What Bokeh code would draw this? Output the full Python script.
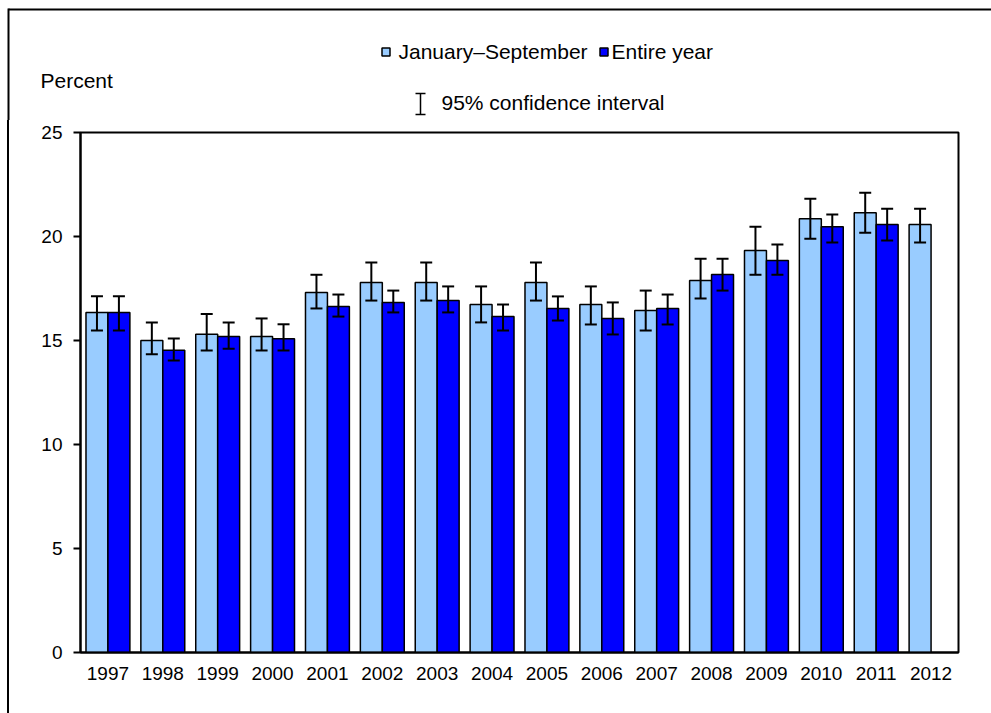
from bokeh.plotting import figure
from bokeh.layouts import column, row
from bokeh.models import ColumnDataSource, FactorRange, Range1d, FixedTicker, Whisker, TeeHead
from bokeh.core.properties import value
from bokeh.transform import dodge
from bokeh.embed import file_html
from bokeh.resources import INLINE

years = ["1997", "1998", "1999", "2000", "2001", "2002", "2003", "2004",
         "2005", "2006", "2007", "2008", "2009", "2010", "2011", "2012"]
jan_sep = [16.35, 15.0, 15.3, 15.19, 17.31, 17.79, 17.79, 16.73, 17.79, 16.73, 16.44, 17.88, 19.33, 20.85, 21.14, 20.58]
jan_sep_lo = [15.48, 14.34, 14.52, 14.52, 16.54, 16.92, 16.92, 15.87, 16.92, 15.77, 15.48, 17.02, 18.16, 19.89, 20.18, 19.71]
jan_sep_hi = [17.13, 15.87, 16.27, 16.06, 18.16, 18.75, 18.75, 17.6, 18.75, 17.6, 17.4, 18.93, 20.47, 21.81, 22.1, 21.33]
entire_years = years[:15]
entire = [16.35, 14.53, 15.19, 15.08, 16.63, 16.83, 16.92, 16.15, 16.54, 16.06, 16.54, 18.17, 18.85, 20.47, 20.58]
entire_lo = [15.48, 14.04, 14.6, 14.52, 16.15, 16.35, 16.35, 15.48, 15.96, 15.29, 15.77, 17.4, 18.16, 19.71, 19.81]
entire_hi = [17.13, 15.1, 15.87, 15.78, 17.21, 17.4, 17.6, 16.73, 17.12, 16.83, 17.21, 18.93, 19.62, 21.06, 21.33]
y_ticks = [0, 5, 10, 15, 20, 25]
series_names = ["January\u2013September", "Entire year"]
ci_label = "95% confidence interval"
y_title = "Percent"

LIGHT = "#99CCFF"
DARK = "#0000FF"
FONT = "Liberation Sans"

W, H = 991, 713
TOP_H = 120    # header (legend, y title)
LEFT_OFF = 7   # outer border sits 7px in from the left edge

# ---- header: outer border, y title, legend ----
top = figure(width=W, height=TOP_H, x_range=Range1d(0, W), y_range=Range1d(TOP_H, 0),
             min_border=0, x_axis_location=None, y_axis_location=None,
             output_backend="svg", toolbar_location=None)
top.grid.visible = False
top.outline_line_color = None
top.background_fill_color = "white"
top.border_fill_color = "white"
top.segment(x0=[8, 8], y0=[9, 8], x1=[W, 8], y1=[9, TOP_H], line_color="black", line_width=2)
top.text(x=[40], y=[80], text=[y_title], text_font=value(FONT), text_font_size="21px",
         text_color="black", text_baseline="middle", text_align="left")
top.rect(x=[385.5, 603.5], y=[51.5, 51.5], width=8, height=8, fill_color=[LIGHT, DARK],
         line_color="black", line_width=1.5)
top.text(x=[398, 611], y=[51, 51], text=series_names, text_font=value(FONT), text_font_size="21px",
         text_color="black", text_baseline="middle", text_align="left")
# confidence interval key (I-beam)
top.segment(x0=[420, 415, 415], y0=[93, 93, 114], x1=[420, 425, 425], y1=[114, 93, 114],
            line_color="black", line_width=1.5)
top.text(x=[441], y=[102], text=[ci_label], text_font=value(FONT), text_font_size="21px",
         text_color="black", text_baseline="middle", text_align="left")

# ---- main chart ----
src_a = ColumnDataSource(dict(year=years, v=jan_sep, lo=jan_sep_lo, hi=jan_sep_hi))
src_b = ColumnDataSource(dict(year=entire_years, v=entire, lo=entire_lo, hi=entire_hi))

PW = W - LEFT_OFF - 2
p = figure(x_range=FactorRange(factors=years, range_padding=0), y_range=Range1d(0, 25),
           width=PW, height=H - TOP_H, output_backend="svg", toolbar_location=None,
           min_border_left=80 - (LEFT_OFF + 2), min_border_right=(LEFT_OFF + 2 + PW) - 958,
           min_border_top=132 - TOP_H, min_border_bottom=(H - 652))
p.margin = (0, 0, 0, LEFT_OFF)
p.styles = {"border-left": "2px solid black"}
p.background_fill_color = "white"
p.border_fill_color = "white"
p.outline_line_color = "black"
p.outline_line_width = 2
p.grid.visible = False

p.vbar(x=dodge("year", -0.2, range=p.x_range), top="v", width=0.4, source=src_a,
       fill_color=LIGHT, line_color="black", line_width=1.5)
p.vbar(x=dodge("year", 0.2, range=p.x_range), top="v", width=0.4, source=src_b,
       fill_color=DARK, line_color="black", line_width=1.5)

for src, off in ((src_a, -0.2), (src_b, 0.2)):
    w = Whisker(base=dodge("year", off, range=p.x_range), upper="hi", lower="lo", source=src,
                line_color="black", line_width=2, level="overlay",
                upper_head=TeeHead(size=12, line_width=2, line_color="black"),
                lower_head=TeeHead(size=12, line_width=2, line_color="black"))
    p.add_layout(w)

p.yaxis.ticker = FixedTicker(ticks=y_ticks)
p.yaxis.minor_tick_line_color = None
p.yaxis.major_tick_out = 7
p.yaxis.major_tick_in = 0
p.yaxis.major_label_standoff = 11
p.xaxis.major_tick_line_color = None
p.xaxis.minor_tick_line_color = None
p.xaxis.major_label_standoff = 8
for ax in (p.xaxis[0], p.yaxis[0]):
    ax.axis_line_width = 2
    ax.axis_line_color = "black"
    ax.major_tick_line_width = 2
    ax.major_label_text_font = FONT
    ax.major_label_text_font_size = "19px"
    ax.major_label_text_color = "black"

# wrapping the chart in its own row keeps its frame from being aligned with the header's
layout = column(top, row(p, spacing=0), spacing=0)
open("out.html", "w").write(file_html(layout, INLINE))
